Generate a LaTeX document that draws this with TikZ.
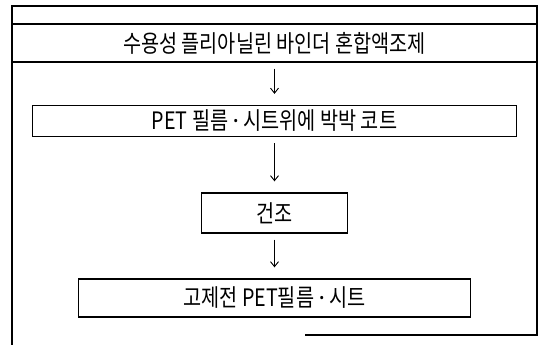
\documentclass[tikz,border=0pt]{standalone}
\usepackage{fontspec}
\setmainfont{Noto Sans CJK KR}[FakeStretch=0.82]
\newfontfamily\dotfont{Noto Sans}
\newcommand{\mdot}{{\dotfont ·}}
\usetikzlibrary{arrows.meta}
\begin{document}
\begin{tikzpicture}[x=1pt,y=-1pt,
  procbox/.style={draw,line width=1.3pt,inner sep=0pt,font=\fontsize{24}{26}\selectfont},
  flowarrow/.style={line width=0.9pt,-{Straight Barb[length=5pt,width=8pt]},shorten <=6pt,shorten >=11pt},
  frame/.style={line width=1.1pt}]
\useasboundingbox (0,0) rectangle (547,345);
\draw[frame] (305,335) -- (537,335) -- (537,6) -- (12,6) -- (12,345);
\node[procbox,minimum width=525pt,minimum height=38pt] (b1) at (274.5,43) {수용성 플리아닐린 바인더 혼합액조제};
\node[procbox,minimum width=484pt,minimum height=31pt] (b2) at (274.5,121) {PET 필름 \mdot{} 시트위에 박박 코트};
\node[procbox,minimum width=146pt,minimum height=40pt] (b3) at (274.5,213) {건조};
\node[procbox,minimum width=392pt,minimum height=38pt] (b4) at (274.5,298) {고제전 PET필름 \mdot{} 시트};
\draw[flowarrow] (b1) -- (b2);
\draw[flowarrow] (b2) -- (b3);
\draw[flowarrow] (b3) -- (b4);
\end{tikzpicture}
\end{document}
